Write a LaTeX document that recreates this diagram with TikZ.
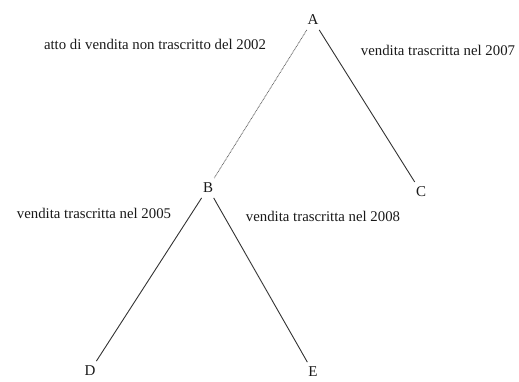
\documentclass[tikz,border=0pt]{standalone}
\usepackage{fontspec}
\setmainfont{Liberation Serif}
\usetikzlibrary{positioning}
\tikzset{
  party/.style={inner sep=2pt, outer sep=3pt, font=\fontsize{15}{17}\selectfont, text=black!90},
  sale/.style={font=\fontsize{14.8}{17}\selectfont, text=black!90},
  transcribed/.style={draw=black!80, line width=0.9pt},
  untranscribed/.style={draw=black!60, line width=0.8pt, dash pattern=on 0.9pt off 0.7pt}
}
\begin{document}
\begin{tikzpicture}[x=1pt, y=-1pt]
  \useasboundingbox (0,0) rectangle (519,381);
  % parties
  \node[party] (A) at (313,20) {A};
  \node[party] (B) at (208,188) {B};
  \node[party] (C) at (421,192) {C};
  \node[party] (D) at (90,371) {D};
  \node[party] (E) at (313,372) {E};
  % transfers
  \draw[untranscribed] (A) -- (B);
  \draw[transcribed] (A) -- (C);
  \draw[transcribed] (B) -- (D);
  \draw[transcribed] (B) -- (E);
  % labels
  \node[sale] (ab) at (155,44) {atto di vendita non trascritto del 2002};
  \node[sale] (ac) at (438,50) {vendita trascritta nel 2007};
  \node[sale] (bd) at (94,213) {vendita trascritta nel 2005};
  \node[sale] (be) at (323,216) {vendita trascritta nel 2008};
\end{tikzpicture}
\end{document}
